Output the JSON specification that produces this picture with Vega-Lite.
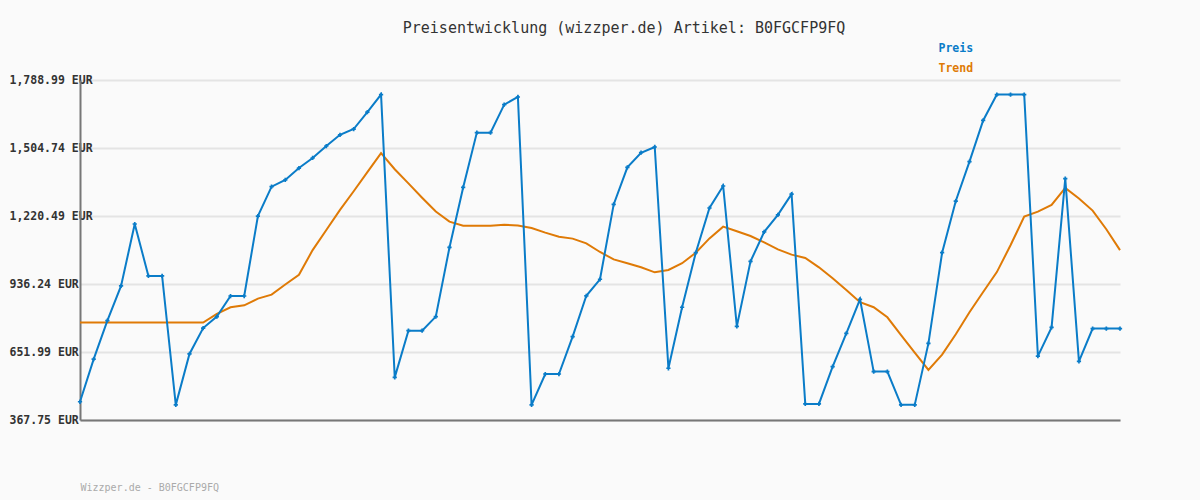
{
  "$schema": "https://vega.github.io/schema/vega-lite/v6.json",
  "autosize": "none",
  "width": 1040,
  "height": 340,
  "padding": {"left": 80, "top": 80, "right": 80, "bottom": 80},
  "background": "#fafafa",
  "title": {
    "text": "Preisentwicklung (wizzper.de) Artikel: B0FGCFP9FQ",
    "font": "DejaVu Sans Mono",
    "fontSize": 15,
    "fontWeight": "normal",
    "color": "#333333",
    "anchor": "middle",
    "frame": "group",
    "baseline": "middle",
    "offset": 0,
    "dx": 24
  },
  "data": {
    "values": [
      {"i": 0, "Preis": 444, "Trend": 775},
      {"i": 1, "Preis": 622, "Trend": 775},
      {"i": 2, "Preis": 783, "Trend": 775},
      {"i": 3, "Preis": 928, "Trend": 775},
      {"i": 4, "Preis": 1187, "Trend": 775},
      {"i": 5, "Preis": 970, "Trend": 775},
      {"i": 6, "Preis": 970, "Trend": 775},
      {"i": 7, "Preis": 431, "Trend": 775},
      {"i": 8, "Preis": 644, "Trend": 775},
      {"i": 9, "Preis": 752, "Trend": 775},
      {"i": 10, "Preis": 800, "Trend": 811},
      {"i": 11, "Preis": 886, "Trend": 839},
      {"i": 12, "Preis": 886, "Trend": 847},
      {"i": 13, "Preis": 1220, "Trend": 875},
      {"i": 14, "Preis": 1343, "Trend": 892},
      {"i": 15, "Preis": 1371, "Trend": 934},
      {"i": 16, "Preis": 1421, "Trend": 975},
      {"i": 17, "Preis": 1463, "Trend": 1078},
      {"i": 18, "Preis": 1513, "Trend": 1162},
      {"i": 19, "Preis": 1560, "Trend": 1246},
      {"i": 20, "Preis": 1584, "Trend": 1324},
      {"i": 21, "Preis": 1655, "Trend": 1404},
      {"i": 22, "Preis": 1728, "Trend": 1483},
      {"i": 23, "Preis": 546, "Trend": 1416},
      {"i": 24, "Preis": 741, "Trend": 1357},
      {"i": 25, "Preis": 741, "Trend": 1297},
      {"i": 26, "Preis": 800, "Trend": 1239},
      {"i": 27, "Preis": 1089, "Trend": 1197},
      {"i": 28, "Preis": 1340, "Trend": 1180},
      {"i": 29, "Preis": 1569, "Trend": 1180},
      {"i": 30, "Preis": 1569, "Trend": 1180},
      {"i": 31, "Preis": 1686, "Trend": 1184},
      {"i": 32, "Preis": 1718, "Trend": 1181},
      {"i": 33, "Preis": 431, "Trend": 1170},
      {"i": 34, "Preis": 560, "Trend": 1151},
      {"i": 35, "Preis": 560, "Trend": 1134},
      {"i": 36, "Preis": 716, "Trend": 1126},
      {"i": 37, "Preis": 887, "Trend": 1106},
      {"i": 38, "Preis": 956, "Trend": 1070},
      {"i": 39, "Preis": 1269, "Trend": 1039},
      {"i": 40, "Preis": 1424, "Trend": 1023},
      {"i": 41, "Preis": 1485, "Trend": 1006},
      {"i": 42, "Preis": 1509, "Trend": 985},
      {"i": 43, "Preis": 584, "Trend": 995},
      {"i": 44, "Preis": 839, "Trend": 1023},
      {"i": 45, "Preis": 1067, "Trend": 1067},
      {"i": 46, "Preis": 1254, "Trend": 1127},
      {"i": 47, "Preis": 1346, "Trend": 1176},
      {"i": 48, "Preis": 759, "Trend": 1157},
      {"i": 49, "Preis": 1031, "Trend": 1137},
      {"i": 50, "Preis": 1154, "Trend": 1110},
      {"i": 51, "Preis": 1225, "Trend": 1081},
      {"i": 52, "Preis": 1312, "Trend": 1059},
      {"i": 53, "Preis": 435, "Trend": 1045},
      {"i": 54, "Preis": 435, "Trend": 1006},
      {"i": 55, "Preis": 591, "Trend": 960},
      {"i": 56, "Preis": 730, "Trend": 911},
      {"i": 57, "Preis": 872, "Trend": 860},
      {"i": 58, "Preis": 570, "Trend": 839},
      {"i": 59, "Preis": 570, "Trend": 797},
      {"i": 60, "Preis": 431, "Trend": 723},
      {"i": 61, "Preis": 431, "Trend": 649},
      {"i": 62, "Preis": 688, "Trend": 577},
      {"i": 63, "Preis": 1067, "Trend": 641},
      {"i": 64, "Preis": 1283, "Trend": 726},
      {"i": 65, "Preis": 1448, "Trend": 818},
      {"i": 66, "Preis": 1620, "Trend": 903},
      {"i": 67, "Preis": 1728, "Trend": 986},
      {"i": 68, "Preis": 1728, "Trend": 1098},
      {"i": 69, "Preis": 1728, "Trend": 1218},
      {"i": 70, "Preis": 635, "Trend": 1239},
      {"i": 71, "Preis": 755, "Trend": 1267},
      {"i": 72, "Preis": 1377, "Trend": 1338},
      {"i": 73, "Preis": 613, "Trend": 1294},
      {"i": 74, "Preis": 750, "Trend": 1243},
      {"i": 75, "Preis": 750, "Trend": 1165},
      {"i": 76, "Preis": 750, "Trend": 1078}
    ]
  },
  "transform": [{"fold": ["Trend", "Preis"], "as": ["series", "value"]}],
  "encoding": {
    "x": {
      "field": "i",
      "type": "quantitative",
      "scale": {"domain": [0, 76], "nice": false, "zero": false},
      "axis": {
        "title": "Wizzper.de - B0FGCFP9FQ",
        "titleFont": "DejaVu Sans Mono",
        "titleFontSize": 10,
        "titleFontWeight": "normal",
        "titleColor": "#aaaaaa",
        "titleAnchor": "start",
        "titleAlign": "left",
        "titleBaseline": "middle",
        "titleX": 0,
        "titleY": 67,
        "labels": false,
        "ticks": false,
        "grid": false,
        "domainColor": "#777777",
        "domainWidth": 2
      }
    },
    "y": {
      "field": "value",
      "type": "quantitative",
      "scale": {"domain": [367.75, 1788.99], "nice": false, "zero": false},
      "axis": {
        "title": null,
        "values": [367.75, 651.99, 936.24, 1220.49, 1504.74, 1788.99],
        "labelExpr": "format(datum.value, ',.2f') + ' EUR'",
        "labelFont": "DejaVu Sans Mono",
        "labelFontSize": 11.5,
        "labelFontWeight": "bold",
        "labelColor": "#333333",
        "labelAlign": "left",
        "labelBaseline": "middle",
        "labelPadding": 71,
        "ticks": false,
        "tickSize": 0,
        "grid": true,
        "gridColor": "#e4e4e4",
        "gridWidth": 2,
        "domainColor": "#777777",
        "domainWidth": 2,
        "zindex": 0
      }
    },
    "color": {
      "field": "series",
      "type": "nominal",
      "scale": {"domain": ["Preis", "Trend"], "range": ["#0a7cc8", "#df7a06"]},
      "legend": {
        "title": null,
        "orient": "none",
        "legendX": 847,
        "legendY": -37,
        "direction": "vertical",
        "symbolSize": 0,
        "symbolOpacity": 0,
        "symbolStrokeWidth": 0,
        "labelOffset": 0,
        "labelFont": "DejaVu Sans Mono",
        "labelFontSize": 11.5,
        "labelFontWeight": "bold",
        "rowPadding": 7,
        "encode": {
          "labels": {"update": {"fill": {"scale": "color", "field": "value"}}}
        }
      }
    }
  },
  "layer": [
    {
      "mark": {"type": "line", "strokeWidth": 2, "interpolate": "linear"},
      "encoding": {"order": {"field": "i", "type": "quantitative"}}
    },
    {
      "transform": [{"filter": "datum.series == 'Preis'"}],
      "mark": {"type": "point", "shape": "cross", "size": 18, "filled": true, "opacity": 1}
    }
  ],
  "config": {
    "view": {"stroke": null},
    "font": "DejaVu Sans Mono"
  }
}
